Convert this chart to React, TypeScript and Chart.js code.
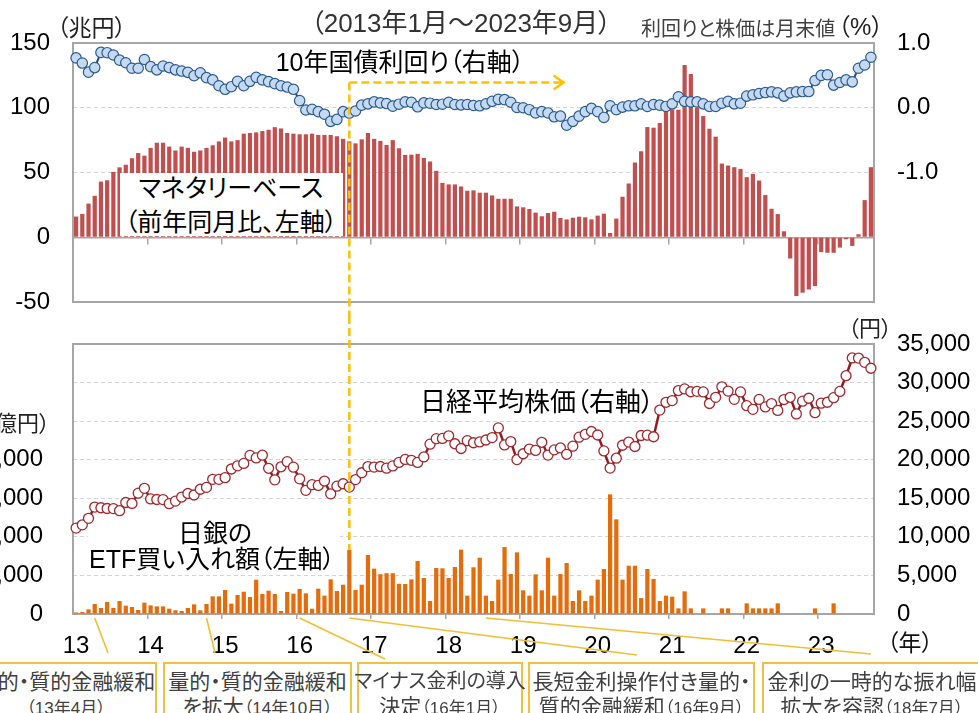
import React, { useEffect, useRef } from 'react';
import { Chart, registerables } from 'chart.js';

Chart.register(...registerables);

// ---------- data ----------
const YEARS = [2013, 2014, 2015, 2016, 2017, 2018, 2019, 2020, 2021, 2022, 2023];
const LAST_MONTH_2023 = 9;
const MONTHS: string[] = [];
YEARS.forEach((y) => {
  const n = y === 2023 ? LAST_MONTH_2023 : 12;
  for (let m = 1; m <= n; m++) MONTHS.push(`${y}-${String(m).padStart(2, '0')}`);
});
const YEAR_LABELS = ['13', '14', '15', '16', '17', '18', '19', '20', '21', '22', '23'];

// マネタリーベース（前年同月比、兆円）
const MONETARY_BASE_YOY = [
  16, 18, 26, 32, 43, 44, 50.5, 54, 56, 61, 65, 63,
  69, 73, 73, 70, 67, 70, 69, 66, 67, 69, 71, 74,
  77, 74, 75, 80, 80.5, 81, 82, 83, 85, 84, 80.5, 80,
  79.5, 79.5, 80, 79, 79, 79, 78, 76, 74, 72.5, 75.6, 80.5,
  76, 74.4, 71.3, 75, 68.7, 63.6, 63.8, 64.4, 61.3, 58.5, 51.3, 42,
  40.8, 40.8, 39.2, 35.9, 36.2, 34.4, 34.4, 32.3, 29.7, 29.7, 29.7, 23.8,
  23.1, 21.8, 19, 16.2, 18.7, 19.7, 14.9, 13.8, 15.1, 15.9, 15.4, 13.8,
  16.7, 18.2, 3.3, 14.4, 31.3, 41.5, 57.7, 66.4, 85.1, 84.6, 88.2, 97.4,
  98.7, 98.5, 133, 126, 100, 93.6, 83.8, 77.7, 56.9, 55.4, 54.1, 52.8,
  46.4, 49, 43.8, 32.6, 22, 17.9, 4.6, -16.4, -45.4, -42.8, -40.3, -37.7,
  -11.5, -12, -12, -8, -1.5, -6.7, 2.3, 28.7, 54.1,
];

// 10年国債利回り（%、月末値）
const JGB_10Y = [
  0.77, 0.69, 0.55, 0.62, 0.855, 0.85, 0.815, 0.735, 0.695, 0.61, 0.61, 0.745,
  0.635, 0.585, 0.645, 0.62, 0.585, 0.567, 0.547, 0.495, 0.54, 0.465, 0.43, 0.34,
  0.285, 0.325, 0.408, 0.34, 0.408, 0.47, 0.43, 0.403, 0.372, 0.34, 0.32, 0.285,
  0.11, -0.035, -0.025, -0.06, -0.1, -0.21, -0.18, -0.06, -0.085, -0.05, 0.04, 0.06,
  0.09, 0.075, 0.065, 0.025, 0.055, 0.09, 0.085, 0.015, 0.075, 0.07, 0.05, 0.055,
  0.085, 0.05, 0.045, 0.05, 0.035, 0.03, 0.06, 0.1, 0.13, 0.125, 0.085, 0.005,
  0.0, -0.03, -0.08, -0.06, -0.08, -0.14, -0.13, -0.27, -0.21, -0.13, -0.06, -0.01,
  -0.06, -0.15, 0.03, -0.03, 0.01, 0.03, 0.03, 0.06, 0.02, 0.05, 0.04, 0.02,
  0.06, 0.17, 0.1, 0.09, 0.09, 0.06, 0.02, 0.02, 0.07, 0.1, 0.06, 0.07,
  0.18, 0.2, 0.22, 0.235, 0.245, 0.23, 0.18, 0.23, 0.245, 0.25, 0.25, 0.42,
  0.5, 0.51, 0.35, 0.39, 0.43, 0.4, 0.61, 0.66, 0.78,
];

// 日経平均株価（円、月末値）
const NIKKEI_225 = [
  11139, 11559, 12398, 13861, 13775, 13677, 13668, 13389, 14456, 14328, 15662, 16291,
  14915, 14841, 14828, 14304, 14632, 15162, 15621, 15425, 16174, 16414, 17460, 17451,
  17674, 18798, 19207, 19520, 20563, 20236, 20585, 18890, 17388, 19083, 19747, 19034,
  17518, 16027, 16759, 16666, 17235, 15576, 16569, 16887, 16450, 17425, 18308, 19114,
  19041, 19119, 18909, 19197, 19651, 20033, 19925, 19646, 20356, 22012, 22725, 22765,
  23098, 22068, 21454, 22468, 22202, 22305, 22554, 22865, 24120, 21920, 22351, 20015,
  20773, 21385, 21206, 22259, 20601, 21276, 21522, 20704, 21756, 22927, 23294, 23657,
  23205, 21143, 18917, 20194, 21878, 22288, 21710, 23140, 23185, 22977, 26434, 27444,
  27663, 28966, 29179, 28813, 28860, 28792, 27284, 28090, 29453, 28893, 27822, 28792,
  27002, 26527, 27821, 26848, 27280, 26393, 27802, 28092, 25937, 27587, 27969, 26095,
  27327, 27446, 28041, 28856, 30888, 33189, 33172, 32619, 31858,
];

// 日銀のETF買い入れ額（億円）
const BOJ_ETF_PURCHASES = [
  200, 260, 600, 1300, 780, 1560, 780, 1690, 1080, 910, 520, 1470,
  1120, 990, 990, 690, 480, 390, 780, 1250, 480, 1300, 2290, 2290,
  3110, 1340, 2460, 2890, 2200, 4450, 2590, 3020, 2590, 390, 2850, 2640,
  3240, 2680, 690, 3280, 2380, 4490, 2980, 3800, 8290, 3110, 3800, 7650,
  5880, 5160, 5290, 5290, 3910, 3890, 4490, 6870, 4670, 1690, 5960, 5920,
  4670, 6090, 8340, 2380, 6050, 7300, 2380, 1690, 4450, 8680, 5180, 7990,
  3070, 2380, 5140, 3070, 7300, 2380, 5180, 6610, 1690, 3070, 1690, 2380,
  4450, 5830, 15510, 12270, 4450, 6260, 6260, 2070, 5830, 4540, 1690, 2380,
  2250, 730, 2940, 730, 0, 730, 0, 0, 730, 730, 0, 0,
  1380, 730, 730, 730, 730, 1380, 0, 0, 0, 0, 0, 730,
  0, 0, 1380, 0, 0, 0, 0, 0, 0,
];

// policy events (month index into MONTHS) and their captions
const EVENT_MONTH_INDEX = [3, 21, 36, 44, 66];
const EVENT_LINE1 = ['量的・質的金融緩和', '量的・質的金融緩和', 'マイナス金利の導入', '長短金利操作付き量的・', '金利の一時的な振れ幅'];
const EVENT_LINE2 = ['', 'を拡大', '決定', '質的金融緩和', '拡大を容認'];
const EVENT_DATE = ['（13年4月）', '（14年10月）', '（16年1月）', '（16年9月）', '（18年7月）'];
const YCC_START_INDEX = 44;

// ---------- layout / style ----------
const W = 978;
const TOP_H = 318;
const BOT_TOP = 318;
const BOT_H = 713 - BOT_TOP;
const GOLD = '#FFC000';
const BOX_GOLD = '#F0C040';
const FRAME = '#A6A6A6';
const GRID = '#D4D4D4';
const CLEAR = 'rgba(0,0,0,0)';
const NUM_FONT = { family: '"Liberation Sans", Arial, sans-serif', size: 24 };
const JP_FONT = '"Liberation Sans", "Noto Sans CJK JP", sans-serif';
const ARROW_END_INDEX = 78.5;
const ARROW_LEVEL = 0.39;
const BOX_EDGES = [[-25, 157], [163, 352], [357, 523], [528, 755], [762, 982]];
const BOX_LINE1_SIZE = [21, 21, 20, 21, 21];
const CONNECTOR_ENDS = [[108, 653], [215, 653], [385, 659], [637, 655], [871, 654]];

const fmt = (v: number) => Number(v).toLocaleString('en-US');

const framePlugin = {
  id: 'frame',
  beforeDatasetsDraw(chart: any) {
    const { ctx, chartArea } = chart;
    ctx.save();
    ctx.strokeStyle = FRAME;
    ctx.lineWidth = 2;
    ctx.strokeRect(chartArea.left, chartArea.top, chartArea.right - chartArea.left, chartArea.bottom - chartArea.top);
    ctx.restore();
  },
};

const topOverlayPlugin = {
  id: 'topOverlay',
  afterDatasetsDraw(chart: any) {
    const { ctx } = chart;
    const xs = chart.scales.x;
    const x = xs.getPixelForValue(YCC_START_INDEX);
    const xEnd = xs.getPixelForValue(ARROW_END_INDEX);
    const y = chart.scales.y1.getPixelForValue(ARROW_LEVEL);
    ctx.save();
    ctx.strokeStyle = GOLD;
    ctx.lineWidth = 2.5;
    ctx.setLineDash([8, 4]);
    ctx.beginPath();
    ctx.moveTo(x, y);
    ctx.lineTo(x, chart.height);
    ctx.stroke();
    ctx.beginPath();
    ctx.moveTo(x, y);
    ctx.lineTo(xEnd - 2, y);
    ctx.stroke();
    ctx.setLineDash([]);
    ctx.beginPath();
    ctx.moveTo(xEnd - 10, y - 7);
    ctx.lineTo(xEnd, y);
    ctx.lineTo(xEnd - 10, y + 7);
    ctx.stroke();
    ctx.restore();
  },
};

const bottomOverlayPlugin = {
  id: 'bottomOverlay',
  afterDatasetsDraw(chart: any) {
    const { ctx } = chart;
    const x = chart.scales.x.getPixelForValue(YCC_START_INDEX);
    const yTop = chart.scales.y.getPixelForValue(BOJ_ETF_PURCHASES[YCC_START_INDEX]);
    ctx.save();
    ctx.strokeStyle = GOLD;
    ctx.lineWidth = 2.5;
    ctx.setLineDash([8, 4]);
    ctx.lineDashOffset = 2;
    ctx.beginPath();
    ctx.moveTo(x, 0);
    ctx.lineTo(x, yTop);
    ctx.stroke();
    ctx.restore();
  },
  afterDraw(chart: any) {
    const { ctx, chartArea } = chart;
    ctx.save();
    ctx.strokeStyle = '#F2BE35';
    ctx.lineWidth = 1.6;
    EVENT_MONTH_INDEX.forEach((idx, k) => {
      const sx = chart.scales.x.getPixelForValue(idx);
      const sy = chartArea.bottom + 4;
      const [ex, ey] = CONNECTOR_ENDS[k];
      ctx.beginPath();
      ctx.moveTo(sx, sy);
      ctx.lineTo(ex, ey - BOT_TOP);
      ctx.stroke();
    });
    ctx.restore();
  },
};

const yearTickColor = (ctx: any) => (ctx.index > 0 && ctx.index % 12 === 0 ? FRAME : CLEAR);

function topConfig(): any {
  return {
    type: 'bar',
    data: {
      labels: MONTHS,
      datasets: [
        {
          type: 'line', label: '10年国債利回り', data: JGB_10Y, yAxisID: 'y1', order: 0,
          borderColor: '#1F497D', borderWidth: 2, pointRadius: 5.2,
          pointBackgroundColor: '#C5D9F1', pointBorderColor: '#2C5B8E', pointBorderWidth: 1.2,
          clip: false, tension: 0,
        },
        {
          type: 'bar', label: 'マネタリーベース', data: MONETARY_BASE_YOY, yAxisID: 'y', order: 1,
          backgroundColor: '#C0504D', barPercentage: 1, categoryPercentage: 0.68,
        },
      ],
    },
    options: {
      animation: false,
      responsive: false,
      maintainAspectRatio: false,
      layout: { padding: { top: 43, bottom: TOP_H - 302, left: 0, right: 0 } },
      plugins: { legend: { display: false }, tooltip: { enabled: false } },
      scales: {
        x: {
          type: 'category', offset: true, position: { y: 0 },
          grid: { offset: true, drawOnChartArea: false, drawTicks: true, tickLength: 6, color: yearTickColor, lineWidth: 1.5 },
          border: { display: true, color: FRAME, width: 1.5 },
          ticks: { display: false, autoSkip: false, maxRotation: 0, minRotation: 0 },
        },
        y: {
          position: 'left', min: -50, max: 150,
          ticks: { stepSize: 50, font: NUM_FONT, color: '#000', padding: 0 },
          grid: {
            drawTicks: true, tickLength: 23, tickColor: CLEAR,
            color: (c: any) => (c.tick && (c.tick.value === 50 || c.tick.value === 100) ? GRID : CLEAR), lineWidth: 1,
          },
          border: { display: false, dash: [4, 3] },
          afterFit: (s: any) => { s.width = 73; },
        },
        y1: {
          position: 'right', min: -3, max: 1,
          ticks: { stepSize: 1, font: NUM_FONT, color: '#000', padding: 0, callback: (v: any) => (v >= -1 ? Number(v).toFixed(1) : '') },
          grid: { drawOnChartArea: false, drawTicks: true, tickLength: 23, tickColor: CLEAR, color: CLEAR },
          border: { display: false },
          afterFit: (s: any) => { s.width = W - 874; },
        },
      },
    },
    plugins: [framePlugin, topOverlayPlugin],
  };
}

function bottomConfig(): any {
  return {
    type: 'bar',
    data: {
      labels: MONTHS,
      datasets: [
        {
          type: 'line', label: '日経平均株価', data: NIKKEI_225, yAxisID: 'y1', order: 0,
          borderColor: '#8E1C22', borderWidth: 2.5, pointRadius: 5,
          pointBackgroundColor: '#FFFFFF', pointBorderColor: '#A0282E', pointBorderWidth: 1.3,
          clip: false, tension: 0,
        },
        {
          type: 'bar', label: '日銀のETF買い入れ額', data: BOJ_ETF_PURCHASES, yAxisID: 'y', order: 1,
          backgroundColor: '#E46C0A', barPercentage: 1, categoryPercentage: 0.68,
        },
      ],
    },
    options: {
      animation: false,
      responsive: false,
      maintainAspectRatio: false,
      layout: { padding: { top: 344 - BOT_TOP, bottom: 0, left: 0, right: 0 } },
      plugins: { legend: { display: false }, tooltip: { enabled: false } },
      scales: {
        x: {
          type: 'category', offset: true, position: 'bottom',
          grid: { offset: true, drawOnChartArea: false, drawTicks: true, tickLength: 5, color: yearTickColor, lineWidth: 1.5 },
          border: { display: true, color: FRAME, width: 2 },
          ticks: {
            autoSkip: false, maxRotation: 0, minRotation: 0, font: NUM_FONT, color: '#000', padding: 13,
            callback: (_v: any, i: number) => (i % 12 === 0 ? YEAR_LABELS[i / 12] : ''),
          },
          afterFit: (s: any) => { s.height = BOT_H - (614 - BOT_TOP); },
        },
        y: {
          position: 'left', min: 0, max: 35000,
          ticks: { stepSize: 5000, font: NUM_FONT, color: '#000', padding: 0, callback: (v: any) => (v <= 20000 ? fmt(v) : '') },
          grid: {
            drawTicks: true, tickLength: 30, tickColor: CLEAR,
            color: (c: any) => (c.tick && c.tick.value > 0 && c.tick.value < 35000 ? GRID : CLEAR), lineWidth: 1,
          },
          border: { display: false, dash: [4, 3] },
          afterFit: (s: any) => { s.width = 73; },
        },
        y1: {
          position: 'right', min: 0, max: 35000,
          ticks: { stepSize: 5000, font: NUM_FONT, color: '#000', padding: 0, callback: (v: any) => fmt(v) },
          grid: { drawOnChartArea: false, drawTicks: true, tickLength: 23, tickColor: CLEAR, color: CLEAR },
          border: { display: false },
          afterFit: (s: any) => { s.width = W - 874; },
        },
      },
    },
    plugins: [framePlugin, bottomOverlayPlugin],
  };
}

type TProps = { x: number; y: number; size: number; align?: 'left' | 'center' | 'right'; color?: string; palt?: boolean; children: React.ReactNode };
function T({ x, y, size, align = 'center', color = '#000', palt = true, children }: TProps) {
  const tx = align === 'center' ? '-50%' : align === 'right' ? '-100%' : '0';
  return (
    <div
      style={{
        position: 'absolute', left: x, top: y, transform: `translate(${tx}, -50%)`,
        fontSize: size, fontFamily: JP_FONT, lineHeight: 1, whiteSpace: 'nowrap',
        fontFeatureSettings: palt ? '"palt" 1' : 'normal', color,
      }}
    >
      {children}
    </div>
  );
}

export default function App() {
  const topRef = useRef<HTMLCanvasElement>(null);
  const botRef = useRef<HTMLCanvasElement>(null);

  useEffect(() => {
    const top = new Chart(topRef.current as HTMLCanvasElement, topConfig());
    const bot = new Chart(botRef.current as HTMLCanvasElement, bottomConfig());
    return () => {
      top.destroy();
      bot.destroy();
    };
  }, []);

  return (
    <div style={{ position: 'absolute', left: 0, top: 0, width: W, height: 713, overflow: 'hidden', background: '#fff' }}>
      <canvas ref={topRef} width={W} height={TOP_H} style={{ position: 'absolute', left: 0, top: 0, width: W, height: TOP_H }} />
      <canvas ref={botRef} width={W} height={BOT_H} style={{ position: 'absolute', left: 0, top: BOT_TOP, width: W, height: BOT_H }} />

      {/* titles */}
      <T x={445} y={-13} size={24} color="#333">マネタリーベースと10年国債利回り、日銀のETF買い入れ額と日経平均株価</T>
      <T x={461} y={23} size={26} color="#333">（2013年1月～2023年9月）</T>
      <T x={641} y={29} size={20} align="left" color="#404040">利回りと株価は月末値</T>
      <T x={838} y={27} size={24} align="left" color="#222">（%）</T>
      <T x={57} y={28} size={23} align="left" color="#222">（兆円）</T>

      {/* top panel labels */}
      <T x={400} y={62} size={25}>10年国債利回り（右軸）</T>
      <div style={{ position: 'absolute', left: 120, top: 173, width: 223, height: 63, background: '#fff' }} />
      <T x={231} y={188} size={25}>マネタリーベース</T>
      <T x={231} y={222} size={25}>（前年同月比、左軸）</T>

      {/* bottom panel labels */}
      <T x={848} y={329} size={22} align="left" color="#222">（円）</T>
      <T x={50} y={424} size={22} align="right" color="#222">（億円）</T>
      <T x={537} y={402} size={26}>日経平均株価（右軸）</T>
      <div style={{ position: 'absolute', left: 88, top: 528, width: 252, height: 45, background: '#fff' }} />
      <T x={215} y={533} size={25}>日銀の</T>
      <T x={212} y={559} size={25}>ETF買い入れ額（左軸）</T>
      <T x={887} y={643} size={23} align="left" color="#111">（年）</T>

      {/* policy event boxes */}
      {EVENT_LINE1.map((line1, k) => {
        const [l, r] = BOX_EDGES[k];
        const cx = (l + r) / 2;
        return (
          <React.Fragment key={k}>
            <div
              style={{
                position: 'absolute', left: l, top: 662, width: r - l, height: 80,
                border: `2px solid ${BOX_GOLD}`, boxSizing: 'border-box', background: '#fff',
              }}
            />
            <T x={cx} y={681} size={BOX_LINE1_SIZE[k]} color="#404040">{line1}</T>
            <T x={cx} y={706} size={21} color="#404040">
              {EVENT_LINE2[k]}
              <span style={{ fontSize: 17 }}>{EVENT_DATE[k]}</span>
            </T>
          </React.Fragment>
        );
      })}
    </div>
  );
}
